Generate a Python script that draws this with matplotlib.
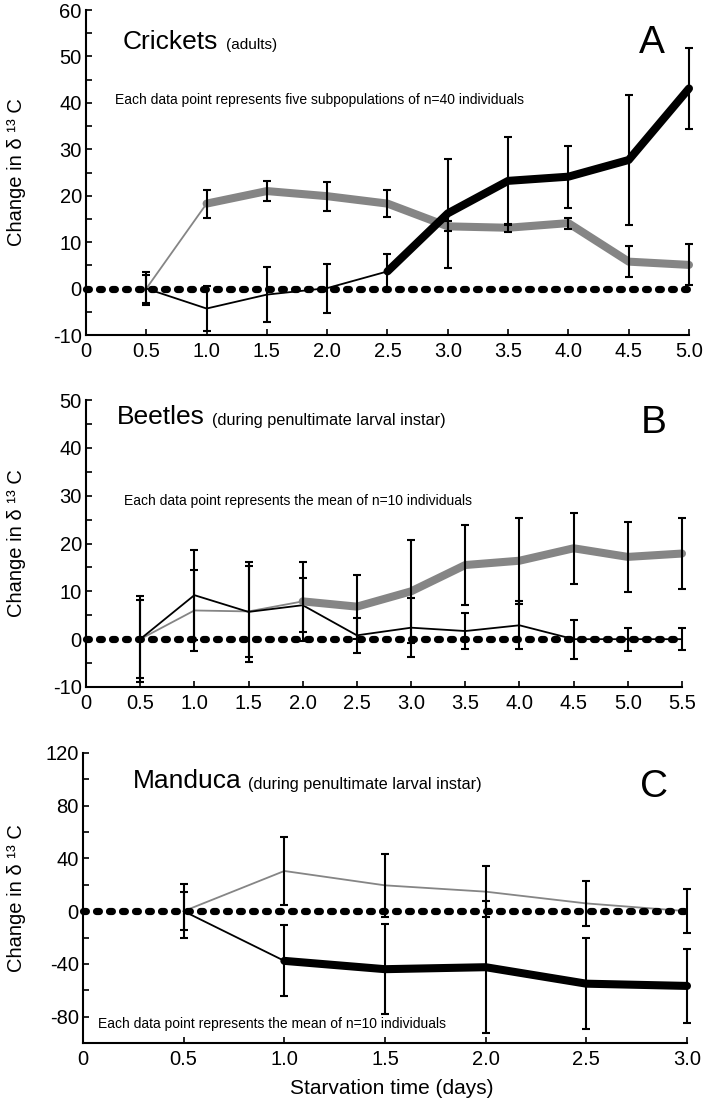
import matplotlib
matplotlib.use('Agg')
import matplotlib.pyplot as plt
from matplotlib.ticker import MultipleLocator

plt.rcParams['font.family'] = ['Liberation Sans', 'DejaVu Sans']
plt.rcParams['axes.unicode_minus'] = False

# crickets (panel A)
days_a = [0.5, 1.0, 1.5, 2.0, 2.5, 3.0, 3.5, 4.0, 4.5, 5.0]
crk_black = [0, -4.3, -1.3, 0.1, 3.7, 16.2, 23.2, 24.1, 27.7, 43.1]
crk_black_err = [3.6, 4.9, 6.0, 5.3, 3.7, 11.7, 9.5, 6.7, 14.1, 8.8]
crk_gray = [0, 18.3, 21.0, 19.9, 18.3, 13.4, 13.1, 14.1, 5.8, 5.1]
crk_gray_err = [3.0, 3.0, 2.2, 3.1, 2.9, 1.1, 0.9, 1.2, 3.4, 4.4]

# beetles (panel B)
days_b = [0.5, 1.0, 1.5, 2.0, 2.5, 3.0, 3.5, 4.0, 4.5, 5.0, 5.5]
btl_black = [0, 9.2, 5.7, 7.1, 0.8, 2.4, 1.7, 2.9, 0, 0, 0]
btl_black_err = [9.0, 9.4, 10.5, 5.7, 3.6, 6.2, 3.8, 5.0, 4.1, 2.4, 2.3]
btl_gray = [0, 6.0, 5.8, 7.9, 6.8, 10.0, 15.5, 16.4, 19.0, 17.2, 17.9]
btl_gray_err = [8.2, 8.5, 9.6, 8.2, 6.7, 10.8, 8.4, 9.0, 7.4, 7.3, 7.4]

# manduca (panel C)
days_c = [0.5, 1.0, 1.5, 2.0, 2.5, 3.0]
man_black = [0, -37.7, -44.0, -42.5, -55.0, -56.7]
man_black_err = [14.5, 27.0, 34.3, 50.0, 34.5, 28.0]
man_gray = [0, 30.5, 19.6, 14.8, 5.9, 0]
man_gray_err = [20.3, 25.8, 23.7, 19.4, 17.2, 16.7]

W, H = 703, 1104
fig = plt.figure(figsize=(W / 100, H / 100), dpi=100)
GRAY = '#858585'


def box(l, t, r, b):
    return [l / W, 1 - b / H, (r - l) / W, (b - t) / H]


def px(x, y):
    return x / W, 1 - y / H


def series(ax, x, y, err, color, thick_from):
    # thin segment first, then the thick part
    ax.plot(x[:thick_from + 1], y[:thick_from + 1], color=color, lw=1.3,
            zorder=3, clip_on=False)
    ax.plot(x[thick_from:], y[thick_from:], color=color, lw=5.8,
            solid_capstyle='round', solid_joinstyle='round', zorder=4,
            clip_on=False)
    ax.errorbar(x, y, yerr=err, fmt='none', ecolor='black', elinewidth=1.5,
                capsize=3, capthick=1.5, zorder=6, clip_on=False)


def style(ax, xmax, ylim, ymajor, yminor):
    ax.plot([0, xmax], [0, 0], color='black', lw=5.2, linestyle=(0, (0.4, 1.4)),
            dash_capstyle='round', zorder=5, clip_on=False)
    ax.set_xlim(0, xmax)
    ax.set_ylim(*ylim)
    xt = [i * 0.5 for i in range(int(round(xmax / 0.5)) + 1)]
    ax.set_xticks(xt)
    ax.set_xticklabels(['0' if t == 0 else '{:.1f}'.format(t) for t in xt])
    ax.yaxis.set_major_locator(MultipleLocator(ymajor))
    ax.yaxis.set_minor_locator(MultipleLocator(yminor))
    ax.tick_params(which='both', direction='in', length=4, width=1.2,
                   labelsize=14.5)
    ax.tick_params(axis='x', pad=5)
    ax.tick_params(axis='y', pad=3)
    ax.spines['top'].set_visible(False)
    ax.spines['right'].set_visible(False)
    ax.spines['left'].set_linewidth(1.5)
    ax.spines['bottom'].set_linewidth(1.5)
    ax.set_facecolor('none')


# panel A
ax1 = fig.add_axes(box(86, 10, 689, 335))
series(ax1, days_a, crk_gray, crk_gray_err, GRAY, 1)
series(ax1, days_a, crk_black, crk_black_err, 'black', 4)
style(ax1, 5.0, (-10, 60), 10, 5)

# panel B
ax2 = fig.add_axes(box(86, 400, 682, 687))
series(ax2, days_b, btl_gray, btl_gray_err, GRAY, 3)
series(ax2, days_b, btl_black, btl_black_err, 'black', 10)
style(ax2, 5.5, (-10, 50), 10, 5)

# panel C
ax3 = fig.add_axes(box(83, 753, 687, 1043))
series(ax3, days_c, man_gray, man_gray_err, GRAY, 5)
series(ax3, days_c, man_black, man_black_err, 'black', 1)
style(ax3, 3.0, (-100, 120), 40, 20)

ylab = 'Change in δ ¹³ C'
for yc in [172, 543, 898]:
    fig.text(*px(17, yc), ylab, rotation=90, ha='center', va='center', fontsize=14.5)

# panel headings
fig.text(*px(123, 42), 'Crickets', fontsize=19, va='center')
fig.text(*px(226, 45), '(adults)', fontsize=11, va='center')
fig.text(*px(117, 417), 'Beetles', fontsize=19, va='center')
fig.text(*px(212, 420), '(during penultimate larval instar)', fontsize=11.7, va='center')
fig.text(*px(133, 781), 'Manduca', fontsize=19, va='center')
fig.text(*px(248, 784), '(during penultimate larval instar)', fontsize=11.7, va='center')

fig.text(*px(652, 43), 'A', fontsize=28, ha='center', va='center')
fig.text(*px(654, 423), 'B', fontsize=28, ha='center', va='center')
fig.text(*px(654, 787), 'C', fontsize=28, ha='center', va='center')

fig.text(*px(115, 100), 'Each data point represents five subpopulations of n=40 individuals',
         fontsize=10, va='center')
fig.text(*px(124, 501), 'Each data point represents the mean of n=10 individuals',
         fontsize=10, va='center')
fig.text(*px(98, 1024), 'Each data point represents the mean of n=10 individuals',
         fontsize=10, va='center')

fig.text(*px(392, 1088), 'Starvation time (days)', fontsize=15, ha='center', va='center')

fig.savefig('out.png', dpi=100)
